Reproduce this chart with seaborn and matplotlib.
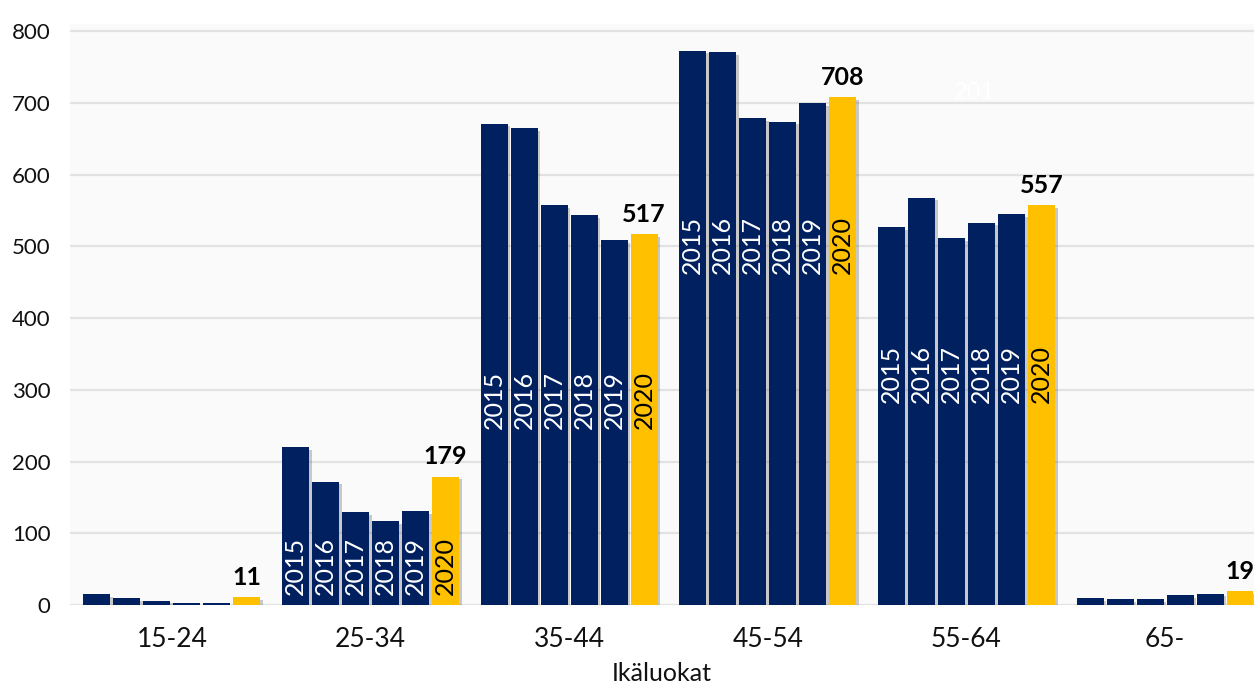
import matplotlib
matplotlib.use("Agg")
import matplotlib.pyplot as plt
from matplotlib import patheffects as pe
import seaborn as sns
import pandas as pd

age_groups = ["15-24", "25-34", "35-44", "45-54", "55-64", "65-"]
years = ["2015", "2016", "2017", "2018", "2019", "2020"]
v2015 = [15, 220, 671, 773, 527, 10]
v2016 = [10, 172, 665, 771, 568, 8]
v2017 = [6, 130, 558, 679, 512, 8]
v2018 = [3, 117, 544, 674, 533, 14]
v2019 = [3, 131, 509, 700, 545, 16]
v2020 = [11, 179, 517, 708, 557, 19]
y_ticks = [0, 100, 200, 300, 400, 500, 600, 700, 800]
x_title = "Ikäluokat"

# layout: base height (data units) of the rotated year labels inside each group
year_label_base = [None, 14, 246, 462, 281, None]

series = [v2015, v2016, v2017, v2018, v2019, v2020]
rows = []
for yr, vals in zip(years, series):
    for ag, v in zip(age_groups, vals):
        rows.append({"Ikäluokka": ag, "Vuosi": yr, "Määrä": v})
df = pd.DataFrame(rows)

NAVY = "#002060"
YELLOW = "#FFC000"
palette = {yr: (YELLOW if yr == "2020" else NAVY) for yr in years}

sns.set_theme(style="white")
plt.rcParams["font.family"] = ["Lato", "DejaVu Sans"]

fig = plt.figure(figsize=(12.54, 6.92), dpi=100)
ax = fig.add_axes([70 / 1254, 1 - 605 / 692, 1 - 70 / 1254, (605 - 24) / 692])
ax.set_facecolor("#fafafa")

sns.barplot(data=df, x="Ikäluokka", y="Määrä", hue="Vuosi", hue_order=years,
            order=age_groups, palette=palette, saturation=1, width=0.906,
            gap=0.1, legend=False, ax=ax, errorbar=None)

shadow = [pe.SimplePatchShadow(offset=(2, -2), shadow_rgbFace="#555555", alpha=0.3),
          pe.Normal()]
for p in ax.patches:
    p.set_linewidth(0)
    p.set_path_effects(shadow)

ax.set_xlim(-0.513, 5.448)
ax.set_ylim(0, 810)
ax.set_yticks(y_ticks)
ax.set_yticklabels([str(t) for t in y_ticks])
ax.yaxis.grid(True, color="#e2e2e2", linewidth=1.6)
ax.set_axisbelow(True)
for s in ax.spines.values():
    s.set_visible(False)
ax.tick_params(axis="y", length=0, pad=14, labelsize=16, labelcolor="#111111")
ax.tick_params(axis="x", length=0, pad=16, labelsize=19, labelcolor="#111111")
ax.set_ylabel("")
ax.set_xlabel(x_title, fontsize=18, color="#111111", labelpad=7)

# year labels inside bars
for yi, (yr, cont) in enumerate(zip(years, ax.containers)):
    for gi, bar in enumerate(cont):
        base = year_label_base[gi]
        if base is None:
            continue
        cx = bar.get_x() + bar.get_width() / 2
        ax.text(cx, base, yr, rotation=90, ha="center", va="bottom",
                fontsize=18, color=("black" if yr == "2020" else "white"))

# value labels above 2020 bars
for bar, v in zip(ax.containers[-1], v2020):
    cx = bar.get_x() + bar.get_width() / 2
    ax.text(cx, v + 12, str(v), ha="center", va="bottom", fontsize=18,
            fontweight="bold", color="black", clip_on=False)

# faint leftover label
ax.text(4.04, 715, "201", ha="center", va="center", fontsize=17, color="white")

fig.savefig("out.png", dpi=100, facecolor="white")
